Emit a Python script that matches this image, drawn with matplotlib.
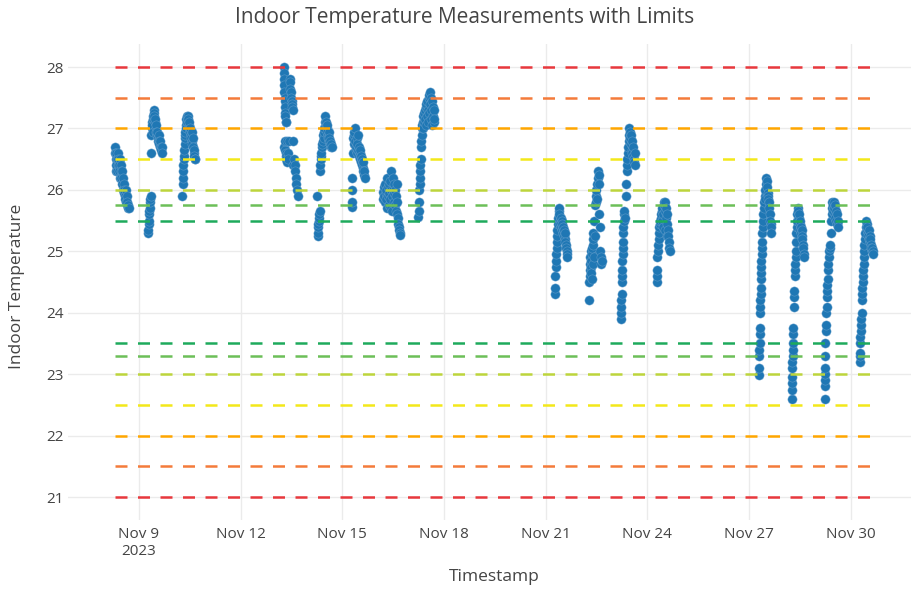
import pandas as pd
import matplotlib
matplotlib.use('Agg')
import matplotlib.pyplot as plt
import matplotlib.dates as mdates

# readings per day: hour of day, temperature
nov08_h = [7.0, 7.2, 7.4, 7.6, 7.8, 8.0, 8.3, 8.6, 8.9, 9.2, 9.5, 9.8, 10.1, 10.4, 10.7, 11.0, 11.3, 11.6,
           11.9, 12.2, 12.5, 12.8, 13.1, 13.4, 13.7, 14.0, 14.3, 14.6, 14.9, 15.2, 15.5, 15.8, 16.1, 16.4, 16.7]
nov08_t = [26.7, 26.6, 26.5, 26.3, 26.4, 26.6, 26.5, 26.3, 26.4, 26.6, 26.5, 26.4, 26.3, 26.2, 26.5, 26.4, 26.3, 26.2,
           26.1, 26.3, 26.2, 26.0, 26.1, 25.95, 26.0, 25.9, 25.85, 26.0, 25.8, 25.9, 25.75, 25.8, 25.7, 25.75, 25.7]

nov09_h = [6.4, 6.6, 6.8, 7.0, 7.2, 7.4, 7.6, 7.8, 8.0, 8.2, 8.6, 8.8, 9.0, 9.2, 9.4, 9.6, 9.8, 10.0, 10.3, 10.6,
           10.9, 11.2, 11.5, 11.8, 12.1, 12.4, 12.7, 13.0, 13.3, 13.6, 13.9, 14.2, 14.5, 14.8, 15.1, 15.4, 15.7, 16.0, 16.3]
nov09_t = [25.3, 25.35, 25.45, 25.5, 25.6, 25.65, 25.7, 25.8, 25.85, 25.9, 26.6, 26.9, 27.0, 27.1, 27.05, 26.95, 27.15,
           27.2, 27.3, 27.25, 27.2, 27.1, 27.15, 27.0, 27.05, 26.95, 26.9, 26.95, 26.85, 26.8, 26.9, 26.8, 26.75, 26.7,
           26.8, 26.7, 26.65, 26.7, 26.6]

nov10_h = [6.4, 6.9, 7.1, 7.3, 7.5, 7.7, 7.9, 8.1, 8.3, 8.5, 8.7, 8.9, 9.1, 9.3, 9.6, 9.9, 10.2, 10.5, 10.8, 11.1,
           11.4, 11.7, 12.0, 12.3, 12.6, 12.9, 13.2, 13.5, 13.8, 14.1, 14.4, 14.7, 15.0, 15.3, 15.6, 15.9]
nov10_t = [25.9, 26.1, 26.2, 26.3, 26.4, 26.5, 26.55, 26.65, 26.75, 26.85, 26.9, 26.95, 27.05, 27.0, 27.15, 27.2,
           27.1, 27.2, 27.15, 27.05, 27.0, 27.1, 26.95, 27.0, 26.9, 26.85, 26.95, 26.8, 26.75, 26.85, 26.7, 26.6,
           26.65, 26.55, 26.5, 26.5]

nov13_h = [6.6, 6.7, 6.8, 6.9, 7.0, 7.1, 7.2, 7.3, 7.4, 7.6, 7.9, 8.3,
           6.9, 7.2, 7.5, 7.8, 8.1, 8.4, 8.7, 9.0, 9.4, 9.8, 10.2,
           10.6, 10.9, 11.2, 11.5, 11.8, 12.1, 12.4, 12.7, 13.0,
           13.0, 13.4, 13.8, 14.2, 14.6, 15.0, 15.4, 15.8, 16.4]
nov13_t = [28.0, 27.9, 27.8, 27.7, 27.6, 27.5, 27.45, 27.35, 27.25, 27.2, 27.1, 27.1,
           26.7, 26.65, 26.8, 26.6, 26.55, 26.5, 26.45, 26.8, 26.6, 26.5, 26.8,
           27.8, 27.75, 27.65, 27.6, 27.5, 27.45, 27.4, 27.35, 27.3,
           26.4, 26.8, 26.5, 26.4, 26.3, 26.2, 26.1, 26.0, 25.9]

nov14_h = [6.3, 6.5, 6.7, 6.9, 7.1, 7.3, 7.5, 7.7, 7.9, 8.2, 8.4, 8.6, 8.9, 9.2, 9.5, 9.8, 10.1, 10.4, 10.7, 11.0,
           11.3, 11.6, 11.9, 12.2, 12.5, 12.8, 13.1, 13.4, 13.7, 14.0, 14.3, 14.6, 14.9, 15.2, 15.5, 15.8, 16.1, 16.4]
nov14_t = [25.9, 25.25, 25.3, 25.4, 25.45, 25.5, 25.55, 25.6, 25.65, 26.3, 26.4, 26.5, 26.55, 26.6, 26.7, 26.75,
           26.8, 26.9, 26.85, 26.95, 27.0, 27.1, 27.2, 27.05, 27.1, 27.0, 26.95, 27.05, 26.9, 26.85, 26.95, 26.8,
           26.85, 26.75, 26.8, 26.7, 26.75, 26.7]

nov15_h = [6.6, 6.7, 6.8, 6.9, 7.4, 7.7, 8.0, 8.3, 8.6, 8.9, 9.2, 9.5, 9.8, 10.1, 10.4, 10.7, 11.0, 11.3, 11.6,
           11.9, 12.2, 12.5, 12.8, 13.1, 13.4, 13.7, 14.0, 14.3, 14.6, 14.9, 15.2, 15.5, 15.8]
nov15_t = [25.72, 25.8, 26.0, 26.2, 26.6, 26.85, 26.9, 26.75, 26.95, 27.0, 26.8, 26.65, 26.7, 26.85, 26.6, 26.75,
           26.9, 26.65, 26.55, 26.7, 26.6, 26.5, 26.65, 26.55, 26.45, 26.5, 26.4, 26.35, 26.45, 26.3, 26.25, 26.3, 26.2]

nov16_h = [4.8, 5.1, 5.4, 5.7, 6.0, 6.3, 6.6, 6.9, 7.2, 7.5, 7.8, 8.1, 8.4, 8.7, 9.0, 9.3, 9.6, 9.9, 10.2, 10.5,
           10.8, 11.1, 11.4, 11.7, 12.0, 12.3, 12.6, 12.9, 13.2, 13.5, 13.8, 14.1, 14.4, 14.7, 15.0, 15.3, 15.6, 15.9,
           16.2, 16.5, 16.8]
nov16_t = [25.97, 25.85, 26.05, 25.9, 25.8, 26.1, 25.95, 25.85, 26.0, 25.7, 26.2, 26.05, 25.9, 25.75, 26.1, 25.95,
           25.85, 26.15, 26.0, 25.7, 26.3, 25.9, 25.65, 26.2, 26.0, 25.8, 26.1, 25.95, 25.75, 26.0, 25.65, 25.9, 26.1,
           25.8, 25.6, 25.55, 25.45, 25.4, 25.35, 25.3, 25.27]

nov17_h = [5.8, 6.0, 6.2, 6.5, 6.7, 6.9, 7.1, 7.3, 7.5, 7.7, 7.9, 8.1, 8.3, 8.5, 8.8, 9.1, 9.4, 9.7, 10.0, 10.3,
           10.6, 10.9, 11.2, 11.5, 11.8, 12.1, 12.4, 12.7, 13.0, 13.3, 13.6, 13.9, 14.2, 14.5, 14.8, 15.1, 15.4, 15.7,
           16.0, 16.3, 16.6, 16.9, 17.2]
nov17_t = [25.56, 25.65, 25.8, 26.0, 26.1, 26.2, 26.3, 26.4, 26.5, 26.7, 26.8, 26.9, 27.0, 27.05, 27.1, 27.2, 27.0,
           27.25, 27.1, 27.3, 27.15, 27.35, 27.05, 27.4, 27.2, 27.45, 27.1, 27.3, 27.5, 27.25, 27.55, 27.6, 27.4, 27.15,
           27.5, 27.3, 27.05, 27.45, 27.2, 27.35, 27.1, 27.3, 27.15]

nov21_h = [6.3, 6.5, 6.9, 7.1, 7.3, 7.5, 7.7, 7.9, 8.1, 8.3, 8.5, 8.8, 9.1, 9.4, 9.7, 10.0, 10.3, 10.6, 10.9, 11.2,
           11.5, 11.8, 12.1, 12.4, 12.7, 13.0, 13.3, 13.6, 13.9, 14.2, 14.5, 14.8, 15.1, 15.4]
nov21_t = [24.3, 24.4, 24.6, 24.75, 24.85, 24.95, 25.05, 25.15, 25.25, 25.35, 25.45, 25.55, 25.65, 25.7, 25.6, 25.5,
           25.45, 25.55, 25.4, 25.5, 25.35, 25.45, 25.3, 25.4, 25.25, 25.35, 25.2, 25.3, 25.15, 25.1, 25.05, 25.0,
           24.95, 24.9]

nov22_h = [6.4, 6.8, 7.0, 7.2, 7.4, 7.6, 7.8, 8.0, 8.2, 8.4, 8.6, 8.8, 9.0, 9.2, 9.4, 9.6, 9.8, 10.0, 10.3, 10.6,
           11.0, 11.3, 11.6, 11.9, 12.2, 12.5, 12.8, 13.1, 13.4, 13.7, 14.0, 14.3, 14.6, 14.9, 15.2, 15.5]
nov22_t = [24.2, 24.5, 24.6, 24.7, 24.8, 24.9, 25.0, 24.85, 24.75, 24.65, 24.55, 24.95, 25.05, 24.8, 25.1, 25.2,
           25.3, 24.9, 25.5, 25.25, 25.75, 25.8, 25.9, 26.0, 25.85, 26.1, 26.2, 26.3, 26.25, 26.1, 25.6, 25.4, 25.0,
           24.9, 24.8, 24.85]

nov23_h = [5.3, 5.4, 5.5, 5.6, 5.7, 5.9, 6.0, 6.1, 6.3, 6.4, 6.5, 6.6, 6.8, 6.9, 7.1, 7.4, 7.7, 8.0, 8.6, 8.9,
           9.2, 9.5, 9.8, 10.1, 10.4, 10.7, 11.0, 11.3, 11.6, 11.9, 12.2, 12.5, 12.8, 13.1, 13.4, 13.7, 14.0, 14.3,
           14.6, 14.9, 15.2]
nov23_t = [23.9, 24.0, 24.1, 24.2, 24.3, 24.5, 24.6, 24.7, 24.85, 24.95, 25.05, 25.15, 25.3, 25.4, 25.5, 25.6,
           25.65, 25.55, 25.9, 26.1, 26.3, 26.4, 26.5, 26.6, 26.7, 26.8, 26.9, 27.0, 26.95, 26.85, 26.75, 26.9, 26.65,
           26.8, 26.6, 26.55, 26.7, 26.5, 26.45, 26.6, 26.4]

nov24_h = [6.5, 6.7, 6.9, 7.1, 7.3, 7.6, 7.9, 8.2, 8.5, 8.8, 9.1, 9.4, 9.7, 10.0, 10.3, 10.6, 10.9, 11.2, 11.5,
           11.8, 12.1, 12.4, 12.7, 13.0, 13.3, 13.6, 13.9, 14.2, 14.5, 14.8, 15.1, 15.4, 15.7]
nov24_t = [24.5, 24.6, 24.7, 24.9, 25.0, 25.1, 25.2, 25.3, 25.4, 25.45, 25.5, 25.55, 25.6, 25.65, 25.5, 25.7, 25.6,
           25.4, 25.75, 25.8, 25.65, 25.35, 25.8, 25.7, 25.55, 25.25, 25.6, 25.45, 25.35, 25.25, 25.15, 25.05, 25.0]

nov27_h = [6.9, 7.0, 7.2, 7.3, 7.4, 7.5, 7.6, 7.8, 7.9, 8.0, 8.1, 8.2, 8.4, 8.5, 8.6, 8.7, 8.8, 8.9, 9.1, 9.3,
           9.5, 9.8, 10.1, 10.4, 10.7, 11.0, 11.3, 11.6, 11.9, 12.2, 12.5, 12.8, 13.1, 13.4, 13.7, 14.0, 14.3, 14.6,
           14.9, 15.2, 15.5, 15.8]
nov27_t = [22.99, 23.1, 23.3, 23.4, 23.5, 23.65, 23.75, 24.0, 24.1, 24.2, 24.3, 24.4, 24.55, 24.65, 24.75, 24.85,
           24.95, 25.05, 25.15, 25.3, 25.4, 25.5, 25.6, 25.7, 25.8, 25.9, 25.85, 26.0, 26.1, 26.2, 26.15, 26.05,
           25.95, 25.9, 25.85, 25.8, 25.7, 25.6, 25.5, 25.45, 25.4, 25.3]

nov28_h = [6.2, 6.3, 6.4, 6.5, 6.6, 6.7, 6.8, 6.9, 7.0, 7.2, 7.3, 7.6, 7.8, 8.0, 8.3, 8.5, 8.7, 8.9, 9.1, 9.3,
           9.5, 9.7, 9.9, 10.2, 10.5, 10.8, 11.1, 11.4, 11.7, 12.0, 12.3, 12.6, 12.9, 13.2, 13.5, 13.8, 14.1, 14.4,
           14.7, 15.0]
nov28_t = [22.6, 22.75, 22.85, 22.95, 23.1, 23.2, 23.3, 23.4, 23.5, 23.65, 23.75, 24.1, 24.25, 24.35, 24.6, 24.7,
           24.8, 24.9, 25.0, 25.15, 25.3, 25.4, 25.5, 25.6, 25.7, 25.65, 25.55, 25.6, 25.45, 25.5, 25.35, 25.4, 25.3,
           25.35, 25.25, 25.2, 25.1, 25.05, 24.95, 24.9]

nov29_h = [5.4, 5.5, 5.6, 5.7, 5.8, 5.9, 6.0, 6.2, 6.3, 6.6, 6.8, 7.0, 7.3, 7.5, 7.7, 7.9, 8.1, 8.3, 8.6, 9.0,
           9.4, 9.8, 10.1, 10.4, 10.7, 11.0, 11.3, 11.6, 11.9, 12.2, 12.5, 12.8, 13.1, 13.4, 13.7, 14.0, 14.3, 14.6,
           14.9]
nov29_t = [22.6, 22.8, 22.9, 23.0, 23.1, 23.3, 23.5, 23.7, 23.8, 24.0, 24.1, 24.25, 24.35, 24.45, 24.55, 24.7,
           24.8, 24.9, 25.0, 25.05, 25.1, 25.3, 25.5, 25.6, 25.7, 25.8, 25.75, 25.65, 25.8, 25.7, 25.6, 25.75, 25.55,
           25.65, 25.5, 25.6, 25.45, 25.5, 25.4]

nov30_h = [6.3, 6.4, 6.5, 6.7, 6.8, 7.0, 7.2, 7.4, 7.6, 7.8, 8.0, 8.2, 8.4, 8.6, 8.8, 9.0, 9.2, 9.4, 9.7, 10.0,
           10.3, 10.6, 10.9, 11.2, 11.5, 11.8, 12.1, 12.4, 12.7, 13.0, 13.3, 13.6, 13.9, 14.2, 14.5, 14.8, 15.1, 15.4,
           15.6]
nov30_t = [23.2, 23.3, 23.35, 23.5, 23.6, 23.7, 23.8, 23.9, 24.0, 24.2, 24.3, 24.4, 24.5, 24.6, 24.7, 24.8, 24.9,
           25.0, 25.1, 25.2, 25.3, 25.4, 25.5, 25.45, 25.35, 25.4, 25.3, 25.25, 25.35, 25.2, 25.25, 25.15, 25.2, 25.1,
           25.05, 25.0, 25.05, 25.0, 24.95]

days = {
    '2023-11-08': (nov08_h, nov08_t), '2023-11-09': (nov09_h, nov09_t), '2023-11-10': (nov10_h, nov10_t),
    '2023-11-13': (nov13_h, nov13_t), '2023-11-14': (nov14_h, nov14_t), '2023-11-15': (nov15_h, nov15_t),
    '2023-11-16': (nov16_h, nov16_t), '2023-11-17': (nov17_h, nov17_t), '2023-11-21': (nov21_h, nov21_t),
    '2023-11-22': (nov22_h, nov22_t), '2023-11-23': (nov23_h, nov23_t), '2023-11-24': (nov24_h, nov24_t),
    '2023-11-27': (nov27_h, nov27_t), '2023-11-28': (nov28_h, nov28_t), '2023-11-29': (nov29_h, nov29_t),
    '2023-11-30': (nov30_h, nov30_t),
}

# limit levels (upper and lower) and their colours
upper_limits = [28, 27.5, 27, 26.5, 26, 25.75, 25.5]
lower_limits = [21, 21.5, 22, 22.5, 23, 23.3, 23.5]
limit_colors = ['#e8383d', '#f47b3a', '#ffa600', '#f3e81a', '#bdd53c', '#6cbf58', '#1eaa5c']

tick_dates = ['2023-11-09', '2023-11-12', '2023-11-15', '2023-11-18', '2023-11-21', '2023-11-24',
              '2023-11-27', '2023-11-30']
tick_labels = ['Nov 9\n2023', 'Nov 12', 'Nov 15', 'Nov 18', 'Nov 21', 'Nov 24', 'Nov 27', 'Nov 30']

frames = []
for d, (hrs, temps) in days.items():
    ts = pd.Timestamp(d) + pd.to_timedelta(hrs, unit='h')
    frames.append(pd.DataFrame({'Timestamp': ts, 'Indoor Temperature': temps}))
df = pd.concat(frames, ignore_index=True)

plt.rcParams['font.family'] = ['Open Sans', 'DejaVu Sans']
txt = '#444444'

fig = plt.figure(figsize=(9.11, 5.90), dpi=100)
ax = fig.add_axes([68 / 911, 1 - 520 / 590, (920 - 68) / 911, (520 - 44) / 590])

ax.scatter(df['Timestamp'], df['Indoor Temperature'], s=44, color='#1f77b4', edgecolors='#6ea4cf',
           linewidths=0.3, zorder=2)

t0, t1 = df['Timestamp'].min(), df['Timestamp'].max()
for up, lo, c in zip(upper_limits, lower_limits, limit_colors):
    for v in (up, lo):
        ax.plot([t0, t1], [v, v], color=c, lw=1.8, ls=(0, (4.8, 4.2)), zorder=3)

ax.set_xlim(pd.Timestamp('2023-11-06 21:45'), pd.Timestamp('2023-12-02 01:00'))
ax.set_ylim(20.626, 28.375)
ax.set_yticks(range(21, 29))
ax.set_xticks([mdates.date2num(pd.Timestamp(d)) for d in tick_dates])
ax.set_xticklabels(tick_labels)

for s in ax.spines.values():
    s.set_visible(False)
ax.grid(True, color='#ebebeb', lw=1)
ax.set_axisbelow(True)
ax.tick_params(length=0, labelsize=11, labelcolor=txt)
ax.tick_params(axis='y', pad=3)
ax.tick_params(axis='x', pad=5)

ax.set_xlabel('Timestamp', fontsize=12.5, color=txt)
ax.xaxis.set_label_coords(0.5, -0.102)
ax.set_ylabel('Indoor Temperature', fontsize=12.5, color=txt)
ax.yaxis.set_label_coords(-0.05, 0.49)

fig.text(464.5 / 911, 1 - 18 / 590, 'Indoor Temperature Measurements with Limits', ha='center', va='center',
         fontsize=15, color=txt)

fig.savefig('out.png', dpi=100)
